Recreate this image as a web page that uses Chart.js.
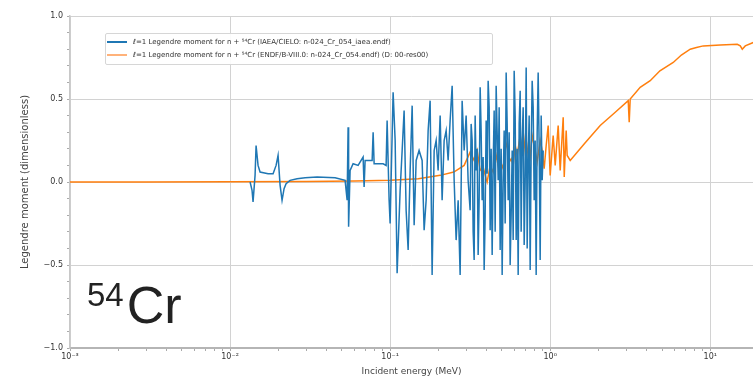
<!DOCTYPE html>
<html lang="en">
<head>
  <meta charset="UTF-8" />
  <title>54Cr l=1 Legendre moment</title>
  <script src="https://cdn.jsdelivr.net/npm/chart.js"></script>
  <style>
    html, body { margin: 0; padding: 0; background: #fff; }
    #wrap { position: relative; width: 753px; height: 383px; overflow: hidden; }
    #legend {
      position: absolute; left: 105px; top: 33px; width: 386px;
      background: rgba(255,255,255,0.9); border: 1px solid #d6d6d6; border-radius: 2px;
      font: 7px "DejaVu Sans", sans-serif; color: #333; padding: 2px 0 3px 0;
    }
    #legend div { height: 12.5px; line-height: 12.5px; white-space: nowrap; }
    #legend span.sw { display: inline-block; width: 20px; height: 2px; margin: 0 6px 0 1px; vertical-align: middle; }
    #iso {
      position: absolute; left: 87px; top: 275px;
      font-family: "Liberation Sans", Arial, sans-serif; color: #222;
    }
    #iso sup { font-size: 33px; vertical-align: 17px; line-height: 0; margin-right: 3px; }
    #iso .el { font-size: 52px; }
  </style>
</head>
<body>
  <div id="wrap">
    <canvas id="chart" width="753" height="383"></canvas>
    <div id="legend">
      <div><span class="sw" style="background:#1f77b4"></span>ℓ=1 Legendre moment for n + ⁵⁴Cr (IAEA/CIELO: n-024_Cr_054_iaea.endf)</div>
      <div><span class="sw" style="background:#ffb27a"></span>ℓ=1 Legendre moment for n + ⁵⁴Cr (ENDF/B-VIII.0: n-024_Cr_054.endf) (D: 00-res00)</div>
    </div>
    <div id="iso"><sup>54</sup><span class="el">Cr</span></div>
  </div>

  <script>
    // incident energy (MeV) and l=1 moment
    const blueE = [0.01334, 0.01372, 0.01392, 0.01433, 0.01454, 0.01496, 0.01540, 0.01728, 0.01857, 0.01939,
      0.01995, 0.02054, 0.02113, 0.02175, 0.02239, 0.02371, 0.02623, 0.02943, 0.03498, 0.04532,
      0.05233, 0.05387, 0.05464, 0.05504, 0.05623, 0.05872, 0.06310, 0.06780, 0.06879, 0.06978,
      0.07720, 0.07832, 0.07945, 0.09045, 0.09441, 0.09578, 0.09857, 0.1000, 0.1044, 0.1075, 0.1106,
      0.1155, 0.1189, 0.1223, 0.1259, 0.1296, 0.1334, 0.1373, 0.1413, 0.1454, 0.1517,
      0.1585, 0.1631, 0.1679, 0.1728, 0.1778, 0.1830, 0.1884, 0.1939, 0.1995, 0.2054,
      0.2113, 0.2175, 0.2239, 0.2304, 0.2371, 0.2441, 0.2512, 0.2585, 0.2661, 0.2738,
      0.2818, 0.2901, 0.2985, 0.3072,
      0.3162, 0.3208, 0.3255, 0.3302, 0.3350, 0.3398, 0.3447, 0.3497, 0.3548, 0.3600,
      0.3652, 0.3705, 0.3758, 0.3813, 0.3868, 0.3924, 0.3981, 0.4039, 0.4097, 0.4157,
      0.4217, 0.4278, 0.4340, 0.4403, 0.4467, 0.4532, 0.4597, 0.4664, 0.4732, 0.4800,
      0.4870, 0.4941, 0.5012, 0.5085, 0.5158, 0.5233, 0.5309, 0.5386, 0.5464, 0.5543,
      0.5623, 0.5705, 0.5788, 0.5872, 0.5957, 0.6043, 0.6131, 0.6220, 0.6310, 0.6401,
      0.6494, 0.6588, 0.6683, 0.6781, 0.6879, 0.6979, 0.7080, 0.7183, 0.7286, 0.7392,
      0.7499, 0.7608, 0.7718, 0.7830, 0.7943, 0.8058, 0.8175, 0.8294, 0.8414, 0.8536,
      0.8660, 0.8786, 0.8913, 0.9042];
    const blueL1 = [0.00, -0.05, -0.12, 0.04, 0.22, 0.10, 0.06, 0.05, 0.05, 0.10,
      0.16, -0.02, -0.11, -0.04, -0.01, 0.01, 0.02, 0.025, 0.03, 0.025,
      0.01, -0.11, 0.33, -0.27, 0.07, 0.11, 0.10, 0.15, -0.03, 0.13,
      0.13, 0.30, 0.11, 0.11, 0.10, 0.37, -0.11, -0.25, 0.54, 0.25, -0.55,
      -0.05, 0.19, 0.43, -0.17, -0.41, 0.07, 0.46, -0.26, 0.13, 0.19,
      0.13, -0.29, -0.11, 0.31, 0.49, -0.56, 0.19, 0.25, 0.07, 0.40,
      -0.11, 0.25, 0.31, 0.13, 0.37, 0.58, 0.01, -0.35, -0.11, -0.56,
      0.49, 0.19, 0.40, 0.01,
      -0.17, 0.35, 0.25, -0.30, -0.47, 0.40, 0.07, 0.20, -0.44, -0.10,
      0.57, 0.30, -0.11, 0.15, -0.53, -0.20, 0.37, 0.05, 0.61, 0.45,
      -0.29, 0.20, -0.44, 0.10, 0.43, -0.30, 0.58, 0.30, 0.01, 0.45,
      -0.41, 0.20, -0.56, 0.00, 0.31, -0.25, 0.66, 0.35, -0.11, 0.30,
      -0.50, -0.20, 0.19, -0.35, 0.67, 0.40, -0.35, 0.20, -0.56, 0.35,
      0.55, -0.30, 0.25, 0.45, -0.38, 0.00, 0.69, -0.40, 0.13, 0.40,
      -0.53, 0.20, 0.61, 0.45, -0.11, 0.25, -0.56, 0.30, 0.66, 0.20,
      -0.47, 0.40, 0.01, 0.19];

    const orangeE = [0.001, 0.003, 0.01, 0.03, 0.06, 0.1, 0.15, 0.2054, 0.25, 0.29,
      0.3162, 0.3350, 0.3498, 0.3652, 0.3812, 0.3981, 0.4039, 0.4217, 0.4403, 0.4597,
      0.4732, 0.4870, 0.5085, 0.5233, 0.5387, 0.5544, 0.5706, 0.5872, 0.6043, 0.6220,
      0.6494, 0.6683, 0.6781, 0.7080, 0.7286, 0.7499, 0.7718, 0.8058, 0.8293, 0.8660,
      0.8913, 0.9173, 0.9441, 0.9716, 1.000, 1.044, 1.075, 1.122, 1.155, 1.206,
      1.224, 1.259, 1.277, 1.334, 1.65, 2.054, 2.55, 3.073, 3.117, 3.162,
      3.65, 4.217, 4.85, 5.872, 6.6, 7.499, 8.2, 9.045, 11.55, 14.75,
      15.40, 15.85, 16.55, 18.57];
    const orangeL1 = [0.0, 0.0, 0.001, 0.003, 0.006, 0.01, 0.02, 0.04, 0.06, 0.10,
      0.18, 0.13, 0.19, 0.07, 0.09, 0.02, 0.00, 0.10, 0.06, 0.16,
      0.10, 0.13, 0.08, 0.19, 0.24, 0.12, 0.14, 0.10, 0.22, 0.16,
      0.28, 0.19, 0.30, 0.13, 0.22, 0.15, 0.28, 0.19, 0.12, 0.25,
      0.19, 0.08, 0.22, 0.34, 0.04, 0.28, 0.10, 0.34, 0.07, 0.39,
      0.03, 0.31, 0.16, 0.13, 0.235, 0.34, 0.42, 0.49, 0.36, 0.50,
      0.57, 0.61, 0.67, 0.72, 0.765, 0.80, 0.81, 0.82, 0.825, 0.83,
      0.82, 0.80, 0.82, 0.84];

    const xMajor = [0.001, 0.01, 0.1, 1, 10];
    const xMajorLabels = ['10⁻³', '10⁻²', '10⁻¹', '10⁰', '10¹'];
    const xMinorMult = [2, 3, 4, 5, 6, 7, 8, 9];
    const yTicks = [-1.0, -0.9, -0.8, -0.7, -0.6, -0.5, -0.4, -0.3, -0.2, -0.1, 0.0,
      0.1, 0.2, 0.3, 0.4, 0.5, 0.6, 0.7, 0.8, 0.9, 1.0];
    const yMajorLabels = { '-1': '−1.0', '-0.5': '−0.5', '0': '0.0', '0.5': '0.5', '1': '1.0' };

    const toPoints = (xs, ys) => xs.map((x, i) => ({ x: x, y: ys[i] }));

    const isMajorX = v => xMajor.some(m => Math.abs(v / m - 1) < 1e-6);
    const isMajorY = v => yMajorLabels[String(Math.round(v * 10) / 10)] !== undefined;

    const xTickList = [];
    xMajor.forEach(m => {
      xTickList.push(m);
      xMinorMult.forEach(k => { if (m * k <= 18.5) xTickList.push(m * k); });
    });

    new Chart(document.getElementById('chart'), {
      type: 'line',
      data: {
        datasets: [
          { label: 'blue', data: toPoints(blueE, blueL1), borderColor: '#1f77b4', borderWidth: 1.5, pointRadius: 0, tension: 0 },
          { label: 'orange', data: toPoints(orangeE, orangeL1), borderColor: '#ff7f0e', borderWidth: 1.5, pointRadius: 0, tension: 0 }
        ]
      },
      options: {
        responsive: false,
        animation: false,
        layout: { padding: { top: 16, right: 0, left: 0, bottom: 0 } },
        plugins: { legend: { display: false }, tooltip: { enabled: false } },
        scales: {
          x: {
            type: 'logarithmic',
            min: 0.001,
            max: 18.5,
            afterBuildTicks: s => { s.ticks = xTickList.map(v => ({ value: v })); },
            afterFit: s => { s.height = 35; },
            ticks: {
              autoSkip: false, maxRotation: 0, padding: 1,
              font: { family: 'DejaVu Sans', size: 8 }, color: '#333',
              callback: v => { const i = xMajor.findIndex(m => Math.abs(v / m - 1) < 1e-6); return i >= 0 ? xMajorLabels[i] : ''; }
            },
            grid: {
              color: c => (c.tick && isMajorX(c.tick.value)) ? '#d2d2d2' : 'rgba(0,0,0,0)',
              tickColor: '#aaa', tickLength: 3, lineWidth: 1
            },
            border: { color: '#b5b5b5', width: 2 },
            title: { display: true, text: 'Incident energy (MeV)', font: { family: 'DejaVu Sans', size: 9 }, color: '#444', padding: { top: 6, bottom: 6 } }
          },
          y: {
            min: -1, max: 1,
            afterBuildTicks: s => { s.ticks = yTicks.map(v => ({ value: v })); },
            afterFit: s => { s.width = 70; },
            ticks: {
              autoSkip: false, padding: 4,
              font: { family: 'DejaVu Sans', size: 8 }, color: '#333',
              callback: v => { const k = String(Math.round(v * 10) / 10); return yMajorLabels[k] || ''; }
            },
            grid: {
              color: c => (c.tick && isMajorY(c.tick.value)) ? '#d2d2d2' : 'rgba(0,0,0,0)',
              tickColor: '#aaa', tickLength: 3, lineWidth: 1
            },
            border: { color: '#c8c8c8', width: 1.5 },
            title: { display: true, text: 'Legendre moment (dimensionless)', font: { family: 'DejaVu Sans', size: 10 }, color: '#444', padding: { top: 19, bottom: 0 } }
          }
        }
      }
    });
  </script>
</body>
</html>
